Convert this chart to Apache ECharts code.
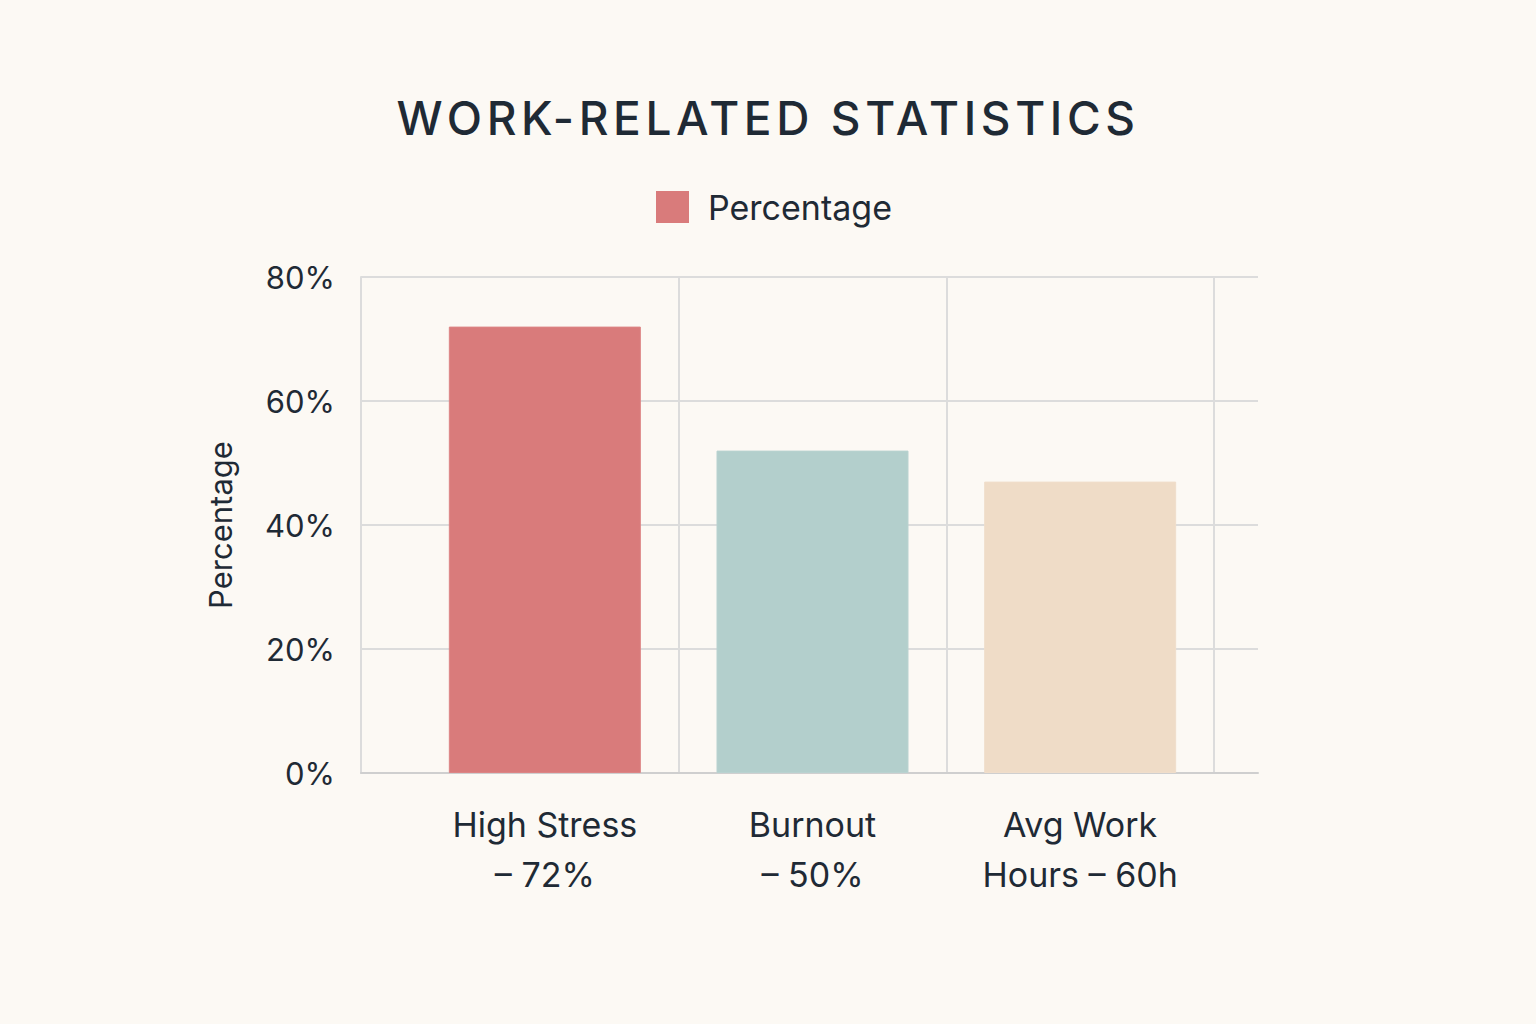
<!DOCTYPE html>
<html>
<head>
<meta charset="utf-8">
<title>Work-Related Statistics</title>
<script src="https://cdn.jsdelivr.net/npm/echarts@6/dist/echarts.min.js"></script>
<style>
  html, body { margin: 0; padding: 0; background: #fcf9f4; }
  #main { width: 1536px; height: 1024px; }
  /* title letter spacing (svg renderer) */
  #main text[style*="46px"] { letter-spacing: 4.6px; }
</style>
</head>
<body>
<div id="main"></div>
<script>
// 数据
const categories = ['High Stress\n– 72%', 'Burnout\n– 50%', 'Avg Work\nHours – 60h'];
const values = [72, 52, 47];
const barColors = ['#d97b7b', '#b3cfcc', '#efdcc7'];
const yTicks = [0, 20, 40, 60, 80];

const chartDom = document.getElementById('main');
const myChart = echarts.init(chartDom, null, { renderer: 'svg' });

const font = 'Inter';
const textColor = '#1f2a35';

const option = {
    backgroundColor: '#fcf9f4',
    animation: false,
    title: {
        text: 'WORK-RELATED STATISTICS',
        left: 'center',
        top: 90,
        textStyle: { fontFamily: font, fontSize: 46, fontWeight: 500, color: textColor }
    },
    legend: {
        data: ['Percentage'],
        left: 651,
        top: 185,
        icon: 'rect',
        itemWidth: 33,
        itemHeight: 32,
        itemGap: 20,
        textStyle: { fontFamily: font, fontSize: 34, color: textColor, padding: [0, 0, 0, 14] }
    },
    grid: [
        { left: 361, right: 278, top: 277, bottom: 251 },
        { left: 411, right: 322, top: 277, bottom: 251 }
    ],
    xAxis: [
        {
            gridIndex: 0, type: 'value', min: 0, max: 1,
            axisLine: { show: true, lineStyle: { color: '#cfcfcf', width: 2 } },
            axisTick: { show: false }, axisLabel: { show: false }, splitLine: { show: false }
        },
        {
            gridIndex: 1, type: 'category', data: categories,
            axisLine: { show: false }, axisTick: { show: false },
            axisLabel: {
                fontFamily: font, fontSize: 34, color: textColor,
                lineHeight: 50, margin: 26
            },
            splitLine: { show: true, showMinLine: false, lineStyle: { color: '#dcdcdc', width: 2 } }
        }
    ],
    yAxis: [
        {
            gridIndex: 0, type: 'value', min: yTicks[0], max: yTicks[yTicks.length - 1], interval: 20,
            name: 'Percentage', nameLocation: 'middle', nameGap: 125, nameRotate: 90,
            nameTextStyle: { fontFamily: font, fontSize: 31, color: textColor },
            axisLine: { show: true, lineStyle: { color: '#dcdcdc', width: 2 } },
            axisTick: { show: false },
            axisLabel: { fontFamily: font, fontSize: 31, color: textColor, margin: 26, formatter: '{value}%' },
            splitLine: { show: true, lineStyle: { color: '#dcdcdc', width: 2 } }
        },
        {
            gridIndex: 1, type: 'value', min: 0, max: 80, interval: 20,
            axisLine: { show: false }, axisTick: { show: false },
            axisLabel: { show: false }, splitLine: { show: false }
        }
    ],
    series: [
        {
            name: 'Percentage',
            type: 'bar',
            xAxisIndex: 1,
            yAxisIndex: 1,
            barWidth: 192,
            itemStyle: { color: barColors[0] },
            data: values.map((v, i) => ({
                value: v,
                itemStyle: { color: barColors[i], borderColor: echarts.color.lift(barColors[i], 0.08), borderWidth: 1 }
            }))
        }
    ]
};

option && myChart.setOption(option);
</script>
</body>
</html>
